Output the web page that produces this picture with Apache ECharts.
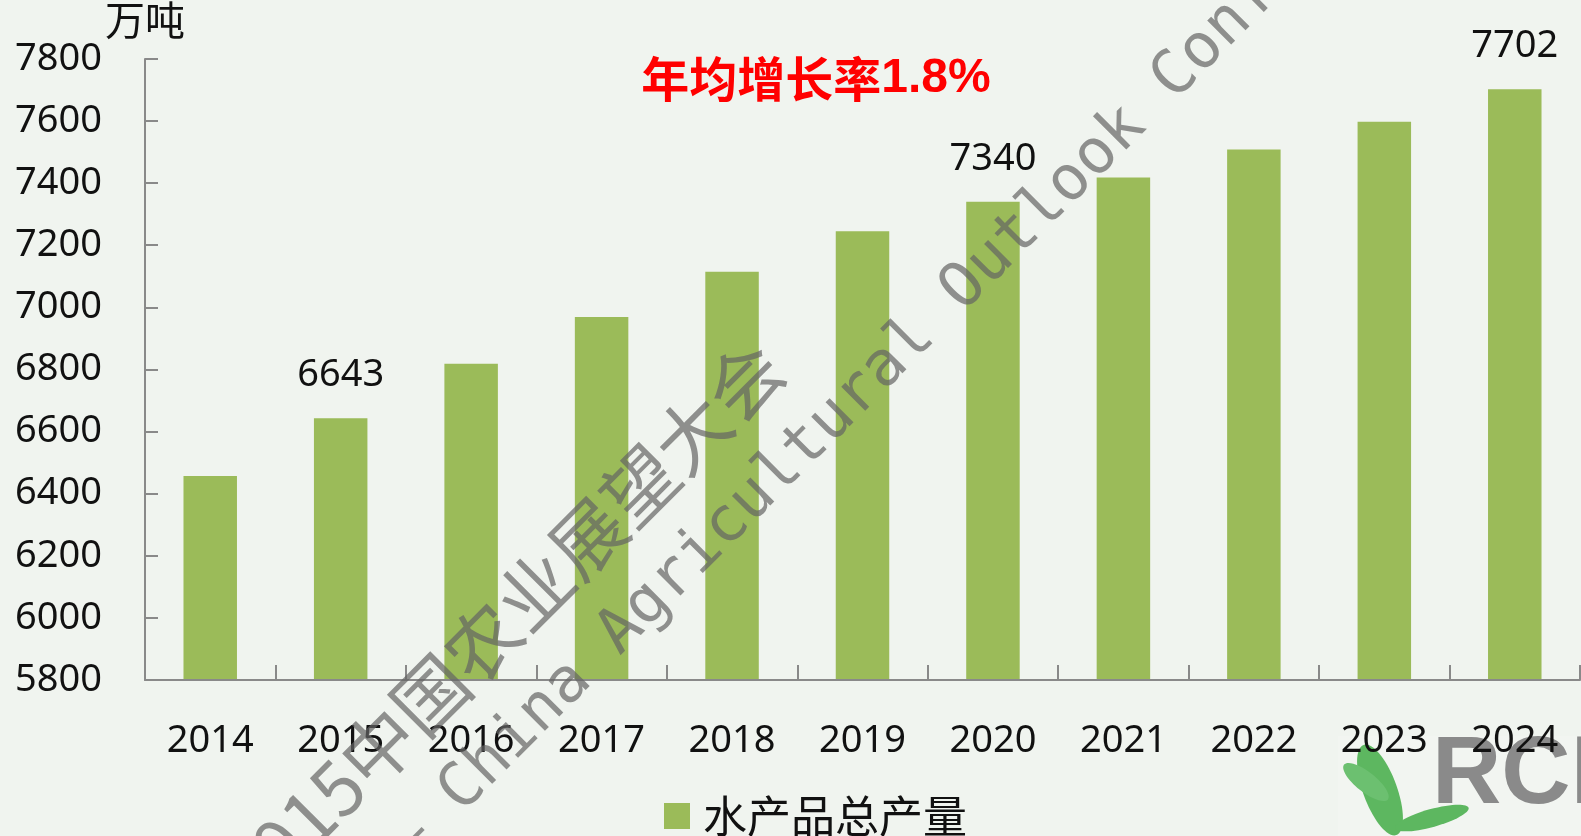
<!DOCTYPE html>
<html>
<head>
<meta charset="utf-8">
<script src="https://cdn.jsdelivr.net/npm/echarts@6/dist/echarts.min.js"></script>
<style>
html,body{margin:0;padding:0;background:#F0F4EF;}
#chart{width:1581px;height:836px;}
</style>
</head>
<body>
<div id="chart"></div>
<script>
// ---- data ----
const years = ['2014','2015','2016','2017','2018','2019','2020','2021','2022','2023','2024'];
const production = [6457, 6643, 6818, 6969, 7115, 7245, 7340, 7418, 7508, 7598, 7702];
const labeledYears = ['2015','2020','2024'];
const seriesName = '水产品总产量';
const unitName = '万吨';
const titleMain = '年均增长率';
const titleRate = '1.8%';
const yMin = 5800, yMax = 7800, yStep = 200;

const chart = echarts.init(document.getElementById('chart'), null, {renderer:'canvas'});
const axisColor = '#898989';
const numFont = '"Noto Sans", "Open Sans", sans-serif';
const cjkFont = '"Noto Sans CJK SC", sans-serif';

const barData = production.map((v, i) => ({
  value: v,
  label: { show: labeledYears.indexOf(years[i]) >= 0 }
}));

const option = {
  backgroundColor: '#F0F4EF',
  animation: false,
  title: {
    text: '{a|' + titleMain + '}{b|' + titleRate + '}',
    left: 811,
    top: 50,
    textAlign: 'center',
    textStyle: {
      rich: {
        a: { fontFamily: cjkFont, fontSize: 48, fontWeight: 'bold', color: '#FF0000', lineHeight: 48 },
        b: { fontFamily: '"Liberation Sans", Arial, sans-serif', fontSize: 48, fontWeight: 'bold', color: '#FF0000', lineHeight: 48 }
      }
    }
  },
  legend: {
    data: [seriesName],
    left: 659,
    top: 789,
    icon: 'rect',
    itemWidth: 26,
    itemHeight: 26,
    textStyle: { fontFamily: cjkFont, fontSize: 44, color: '#111', padding: [0,0,0,8], lineHeight: 44 }
  },
  grid: { left: 145, right: 1, top: 56, bottom: 156, containLabel: false },
  xAxis: {
    type: 'category',
    data: years,
    z: 5,
    axisLine: { show: true, lineStyle: { color: axisColor, width: 2 } },
    axisTick: { show: true, inside: true, length: 15, alignWithLabel: false, lineStyle: { color: axisColor, width: 2 } },
    axisLabel: { fontFamily: numFont, fontSize: 38, color: '#111', margin: 42, lineHeight: 38, interval: 0 },
    splitLine: { show: false }
  },
  yAxis: {
    type: 'value',
    min: yMin, max: yMax, interval: yStep,
    name: unitName,
    nameLocation: 'end',
    nameGap: 25,
    nameTextStyle: { fontFamily: cjkFont, fontSize: 40, color: '#111', align: 'center', verticalAlign: 'middle' },
    axisLine: { show: true, lineStyle: { color: axisColor, width: 2 } },
    axisTick: { show: true, inside: true, length: 13, lineStyle: { color: axisColor, width: 2 } },
    axisLabel: { fontFamily: numFont, fontSize: 38, color: '#111', margin: 43, formatter: v => String(v) },
    splitLine: { show: false }
  },
  series: [{
    name: seriesName,
    type: 'bar',
    data: barData,
    barWidth: '41%',
    itemStyle: { color: '#9BBB59' },
    label: { show: false, position: 'top', distance: 24, fontFamily: numFont, fontSize: 38, color: '#111' }
  }],
  graphic: [
    // RCI logo (bottom right), behind axis labels
    { type: 'rect', z: -1, shape: { x: 1338, y: 736, width: 243, height: 100 }, style: { fill: '#F2F5F1' } },
    { type: 'ellipse', z: -1, x: 1380, y: 790, rotation: 0.35, shape: { cx: 0, cy: 0, rx: 17, ry: 48 }, style: { fill: '#5DB760' } },
    { type: 'ellipse', z: -1, x: 1366, y: 782, rotation: 0.9, shape: { cx: 0, cy: 0, rx: 10, ry: 28 }, style: { fill: '#6CC070' } },
    { type: 'ellipse', z: -1, x: 1432, y: 818, rotation: -1.3, shape: { cx: 0, cy: 0, rx: 9, ry: 38 }, style: { fill: '#5DB760' } },
    { type: 'text', z: -1, x: 1432, y: 777, style: { text: 'RCI', font: 'bold 96px "Liberation Sans", Arial, sans-serif', fill: '#8A8A8A', align: 'left', verticalAlign: 'middle' } },
    // watermark
    { type: 'text', z: 100, x: 503, y: 622, rotation: Math.PI / 4,
      style: { text: '2015中国农业展望大会', font: '74px "Noto Sans CJK SC", sans-serif', fill: 'rgba(100,100,100,0.7)', align: 'center', verticalAlign: 'middle' } },
    { type: 'text', z: 100, x: 912, y: 341, rotation: Math.PI / 4,
      style: { text: '— China Agricultural Outlook Conference', font: '62px "DejaVu Sans Mono", monospace', fill: 'rgba(100,100,100,0.7)', align: 'center', verticalAlign: 'middle' } }
  ]
};
chart.setOption(option);
</script>
</body>
</html>
